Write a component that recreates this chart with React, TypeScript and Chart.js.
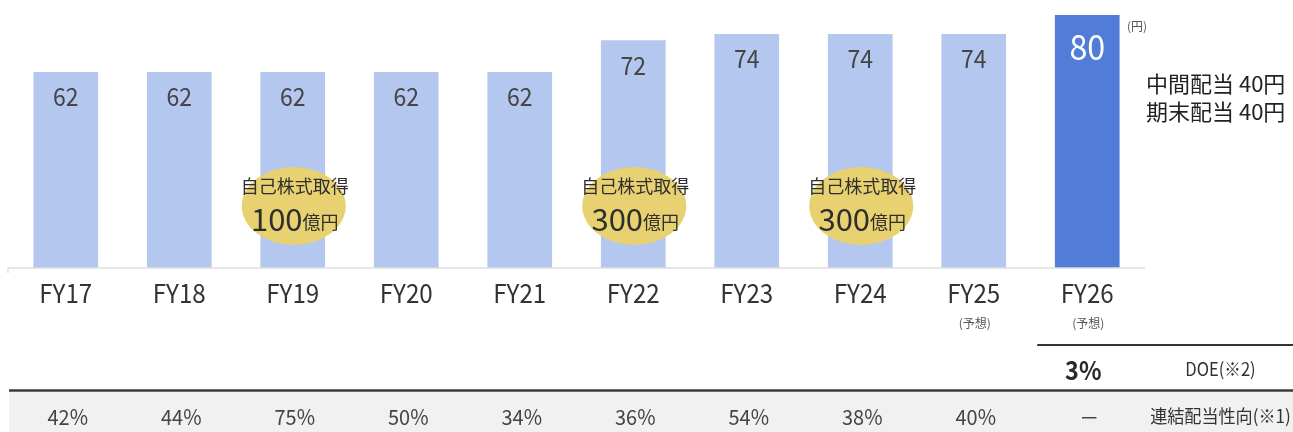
import React, { useEffect, useRef } from "react";
import { Chart, registerables } from "chart.js";

Chart.register(...registerables);

const categories = ["FY17", "FY18", "FY19", "FY20", "FY21", "FY22", "FY23", "FY24", "FY25", "FY26"];
const dividends = [62, 62, 62, 62, 62, 72, 74, 74, 74, 80];
const subLabels = ["", "", "", "", "", "", "", "", "(予想)", "(予想)"];
const payoutRatios = ["42%", "44%", "75%", "50%", "34%", "36%", "54%", "38%", "40%", "－"];
const buybackAmounts: (string | null)[] = [null, null, "100", null, null, "300", null, "300", null, null];
const buybackTitle = "自己株式取得";
const buybackUnit = "億円";
const doeValue = "3%";
const doeLabel = "DOE(※2)";
const payoutLabel = "連結配当性向(※1)";
const unitLabel = "(円)";
const breakdown = ["中間配当 40円", "期末配当 40円"];

const FONT = '"Noto Sans CJK JP", "Noto Sans", Roboto, sans-serif';
const LIGHT = "#b4c7ee";
const DARK = "#517dd8";

function txt(
  ctx: CanvasRenderingContext2D,
  s: string,
  x: number,
  y: number,
  size: number,
  color: string,
  align: CanvasTextAlign = "center",
  sx = 1,
  weight = "normal"
) {
  ctx.save();
  ctx.translate(x, y);
  ctx.scale(sx, 1);
  ctx.font = `${weight} ${size}px ${FONT}`;
  ctx.fillStyle = color;
  ctx.textAlign = align;
  ctx.textBaseline = "middle";
  ctx.fillText(s, 0, 0);
  ctx.restore();
}

const overlay = {
  id: "overlay",
  afterDatasetsDraw(chart: any) {
    const ctx: CanvasRenderingContext2D = chart.ctx;
    const area = chart.chartArea;
    const xs = chart.scales.x;
    const meta = chart.getDatasetMeta(0);
    const W = chart.width;
    const last = categories.length - 1;

    // baseline
    ctx.save();
    ctx.strokeStyle = "#dedede";
    ctx.lineWidth = 1.5;
    ctx.beginPath();
    ctx.moveTo(area.left - 1, area.bottom + 5);
    ctx.lineTo(area.left - 1, area.bottom);
    ctx.lineTo(area.right + 1, area.bottom);
    ctx.stroke();
    ctx.restore();

    // value labels
    meta.data.forEach((bar: any, i: number) => {
      if (i === last) {
        txt(ctx, String(dividends[i]), bar.x, bar.y + 32, 35, "#ffffff", "center", 0.92);
      } else {
        txt(ctx, String(dividends[i]), bar.x, bar.y + 25, 25, "#454545", "center", 0.92);
      }
    });

    // buyback ellipses
    buybackAmounts.forEach((amt, i) => {
      if (!amt) return;
      const cx = xs.getPixelForValue(i);
      const cy = area.bottom - 62;
      ctx.save();
      ctx.fillStyle = "#e8d170";
      ctx.beginPath();
      ctx.ellipse(cx + 1, cy, 52, 39, 0, 0, Math.PI * 2);
      ctx.fill();
      ctx.restore();
      txt(ctx, buybackTitle, cx + 2, cy - 20, 18, "#2e2e2e");
      ctx.save();
      ctx.font = `normal 31px ${FONT}`;
      const w1 = ctx.measureText(amt).width;
      ctx.font = `normal 18px ${FONT}`;
      const w2 = ctx.measureText(buybackUnit).width;
      ctx.restore();
      const start = cx + 2 - (w1 + w2) / 2;
      txt(ctx, amt, start, cy + 13, 31, "#2e2e2e", "left");
      txt(ctx, buybackUnit, start + w1, cy + 16, 18, "#2e2e2e", "left");
    });

    // category labels
    categories.forEach((c, i) => {
      const x = xs.getPixelForValue(i);
      txt(ctx, c, x, area.bottom + 25, 26, "#333333", "center", 0.93);
      if (subLabels[i]) txt(ctx, subLabels[i], x + 1, area.bottom + 55, 12, "#555555");
    });

    // unit & breakdown
    txt(ctx, unitLabel, area.right - 17, 26, 12, "#555555", "left");
    txt(ctx, breakdown[0], area.right + 2, 84, 22, "#222222", "left");
    txt(ctx, breakdown[1], area.right + 2, 112, 22, "#222222", "left");

    // DOE row
    const xLast = xs.getPixelForValue(last);
    const labelX = (area.right + W) / 2 + 2;
    ctx.save();
    ctx.strokeStyle = "#333333";
    ctx.lineWidth = 2;
    ctx.beginPath();
    ctx.moveTo(xLast - 50, 345);
    ctx.lineTo(W, 345);
    ctx.stroke();
    ctx.restore();
    txt(ctx, doeValue, xLast - 4, 370, 26, "#2a2a2a", "center", 0.9, "bold");
    txt(ctx, doeLabel, labelX, 369, 18, "#333333", "center", 0.92);

    // payout row
    ctx.save();
    ctx.fillStyle = "#f1f1f1";
    ctx.fillRect(area.left, 392, W - area.left, 432 - 392);
    ctx.strokeStyle = "#3a3a3a";
    ctx.lineWidth = 2.5;
    ctx.beginPath();
    ctx.moveTo(area.left, 390.5);
    ctx.lineTo(W, 390.5);
    ctx.stroke();
    ctx.restore();
    payoutRatios.forEach((p, i) => {
      const x = xs.getPixelForValue(i);
      txt(ctx, p, x + 2, 417, 21, "#444444", "center", 0.95);
    });
    txt(ctx, payoutLabel, labelX, 416, 18, "#333333", "center", 0.95);
  },
};

export default function App() {
  const ref = useRef<HTMLCanvasElement>(null);
  useEffect(() => {
    if (!ref.current) return;
    const chart = new Chart(ref.current, {
      type: "bar",
      data: {
        labels: categories,
        datasets: [
          {
            data: dividends,
            backgroundColor: dividends.map((_, i) => (i === dividends.length - 1 ? DARK : LIGHT)),
            categoryPercentage: 1,
            barPercentage: 0.57,
            borderWidth: 0,
          },
        ],
      },
      options: {
        responsive: false,
        animation: false,
        layout: { padding: { left: 9, right: 149, top: 15, bottom: 164 } },
        plugins: { legend: { display: false }, tooltip: { enabled: false } },
        scales: {
          x: { display: false },
          y: { display: false, min: 0, max: 80 },
        },
      },
      plugins: [overlay],
    });
    return () => chart.destroy();
  }, []);
  return (
    <div style={{ position: "absolute", left: 0, top: 0, width: 1293, height: 432, background: "#ffffff" }}>
      <canvas ref={ref} width={1293} height={432} />
    </div>
  );
}
